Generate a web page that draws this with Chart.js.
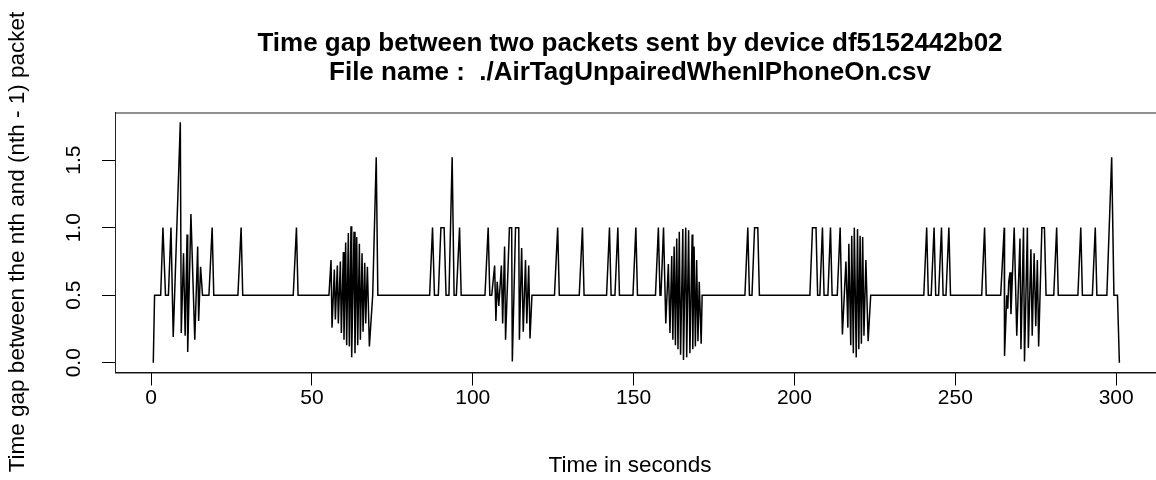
<!DOCTYPE html>
<html><head><meta charset="utf-8">
<script src="https://cdn.jsdelivr.net/npm/chart.js@4/dist/chart.umd.min.js"></script>
<style>html,body{margin:0;padding:0;background:#fff;overflow:hidden;width:1156px;height:480px}
#wrap{position:relative;width:1160px;height:480px}</style></head>
<body><div id="wrap"><canvas id="c" width="1160" height="480"></canvas></div>
<script>
const titleLines = ["Time gap between two packets sent by device df5152442b02", "File name :  ./AirTagUnpairedWhenIPhoneOn.csv"];
const xAxisTitle = "Time in seconds";
const yAxisTitle = "Time gap between the nth and (nth - 1) packet";
const xTicks = [0, 50, 100, 150, 200, 250, 300];
const xTickLabels = ["0", "50", "100", "150", "200", "250", "300"];
const yTicks = [0, 0.5, 1.0, 1.5];
const yTickLabels = ["0.0", "0.5", "1.0", "1.5"];

const timeSec = [
  0.7, 1.1, 3.0, 3.7, 4.5, 5.4, 6.2, 6.9, 9.1, 9.4, 10.1, 10.6, 11.2, 11.4, 12.4, 13.6, 14.5, 14.8, 15.4, 16.0,
  18.0, 19.0, 19.5, 27.0, 28.0, 28.5, 44.2, 45.2, 45.7, 55.3,
  55.95, 56.26, 56.98, 57.3, 57.91, 58.22, 58.85, 59.16, 59.78, 59.98, 60.5, 60.81, 61.33, 61.64, 62.16, 62.37,
  63.1, 63.4, 63.93, 64.24, 64.76, 65.07, 65.59, 65.9, 66.42, 66.73, 67.25, 67.87, 68.9, 70.0, 70.5,
  86.6, 87.5, 88.1, 89.3, 90.1, 91.1, 91.7, 92.6, 93.6, 94.2, 94.9, 95.9, 96.4,
  103.8, 104.8, 105.3, 105.9,
  106.8, 107.2, 107.6, 108.1, 108.9, 109.3, 109.9, 110.2, 111.4, 112.1, 112.3, 113.3, 114.3, 114.5, 115.2, 115.7,
  116.4, 116.8, 117.4, 117.8, 118.4,
  125.4, 126.4, 126.9, 133.1, 134.1, 134.6, 141.6, 142.5, 143.0, 144.2, 145.1, 145.6, 149.8, 150.7, 151.2,
  156.8, 157.7, 158.2, 158.5, 159.3,
  160.0, 160.8, 161.3, 161.85, 162.2, 162.6, 163.0, 163.4, 163.8, 164.2, 164.6, 165.3, 165.5, 166.2, 166.5, 167.1,
  167.5, 168.2, 168.4, 168.8, 169.2, 169.6, 170.0, 170.4, 171.0, 171.3,
  184.6, 185.5, 186.0, 186.8, 187.6, 188.6, 189.1,
  204.8, 205.6, 206.7, 207.2, 207.9, 208.7, 209.2, 210.4, 211.2, 211.7, 213.3, 214.2,
  214.9, 216.0, 216.6, 216.9, 217.5, 217.8, 218.3, 218.6, 219.2, 219.6, 220.0, 220.4, 220.8, 221.2, 221.6, 222.2,
  222.9, 223.7,
  240.2, 241.1, 241.6, 242.5, 243.4, 243.9, 244.8, 245.7, 246.2, 247.1, 248.0, 248.5,
  258.2, 259.1, 259.6, 264.1,
  265.2, 265.3, 266.0, 266.3, 266.6, 267.0, 267.3, 268.3, 269.1, 270.1, 270.4, 271.2, 271.5, 272.4, 272.7, 273.5,
  273.9, 274.5, 275.0, 275.5, 275.9, 276.9, 277.7, 278.2,
  280.6, 281.5, 282.0, 288.1, 289.0, 289.5, 292.6, 293.5, 294.0,
  297.1, 298.6, 299.3, 300.4, 301.0
];
const gapSec = [
  0.0, 0.5, 0.5, 1.0, 0.5, 0.5, 1.0, 0.19, 1.78, 0.22, 0.81, 0.2, 0.95, 0.08, 1.1, 0.17, 0.86, 0.31, 0.71, 0.5,
  0.5, 1.0, 0.5, 0.5, 1.0, 0.5, 0.5, 1.0, 0.5, 0.5,
  0.76, 0.26, 0.69, 0.32, 0.72, 0.29, 0.75, 0.22, 0.82, 0.17, 0.89, 0.13, 0.96, 0.12, 1.01, 0.04,
  0.97, 0.07, 0.93, 0.13, 0.88, 0.17, 0.81, 0.23, 0.74, 0.29, 0.71, 0.12, 0.5, 1.52, 0.5,
  0.5, 1.0, 0.5, 0.5, 1.0, 1.0, 0.5, 0.5, 1.52, 0.5, 0.5, 1.0, 0.5,
  0.5, 1.0, 0.5, 0.5,
  0.72, 0.31, 0.6, 0.42, 0.72, 0.29, 0.86, 0.17, 1.0, 1.0, 0.01, 1.0, 1.0, 0.17, 0.85, 0.23,
  0.76, 0.29, 0.72, 0.18, 0.5,
  0.5, 1.0, 0.5, 0.5, 1.0, 0.5, 0.5, 1.0, 0.5, 0.5, 1.0, 0.5, 0.5, 1.0, 0.5,
  0.5, 1.0, 0.5, 0.5, 1.0,
  0.29, 0.73, 0.22, 0.79, 0.17, 0.86, 0.13, 0.92, 0.1, 0.97, 0.06, 0.99, 0.02, 1.0, 0.04, 0.98,
  0.07, 0.95, 0.1, 0.86, 0.12, 0.76, 0.16, 0.6, 0.14, 0.5,
  0.5, 1.0, 0.5, 0.5, 1.0, 1.0, 0.5,
  0.5, 1.0, 1.0, 0.5, 0.5, 1.0, 0.5, 0.5, 1.0, 0.5, 0.5, 1.0,
  0.21, 0.75, 0.26, 0.88, 0.13, 0.94, 0.07, 1.0, 0.04, 0.99, 0.1, 0.94, 0.14, 0.93, 0.2, 0.76,
  0.16, 0.5,
  0.5, 1.0, 0.5, 0.5, 1.0, 0.5, 0.5, 1.0, 0.5, 0.5, 1.0, 0.5,
  0.5, 1.0, 0.5, 0.5,
  1.0, 0.05, 0.5, 0.4, 0.6, 0.67, 0.36, 1.0, 0.2, 0.92, 0.1, 1.0, 0.01, 1.0, 0.11, 0.84,
  0.2, 0.81, 0.27, 0.76, 0.12, 1.0, 1.0, 0.5,
  0.5, 1.0, 0.5, 0.5, 1.0, 0.5, 0.5, 1.0, 0.5,
  0.5, 1.52, 0.5, 0.5, 0.0
];

const FONT = '"Liberation Sans", Arial, sans-serif';

const rText = {
  id: 'rText',
  afterDraw(chart) {
    const ctx = chart.ctx, a = chart.chartArea;
    const xs = chart.scales.x, ys = chart.scales.y;
    ctx.save();
    ctx.strokeStyle = '#222';
    ctx.lineWidth = 1;
    ctx.strokeRect(a.left + 0.5, a.top + 0.5, a.right - a.left, a.bottom - a.top);
    ctx.fillStyle = '#000';
    ctx.textAlign = 'center';
    ctx.textBaseline = 'middle';
    ctx.font = 'bold 26px ' + FONT;
    ctx.fillText(titleLines[0], 630, 44);
    ctx.fillText(titleLines[1], 630, 73);
    ctx.font = '21px ' + FONT;
    xTicks.forEach((v, i) => ctx.fillText(xTickLabels[i], xs.getPixelForValue(v), 398));
    yTicks.forEach((v, i) => {
      ctx.save();
      ctx.translate(74, ys.getPixelForValue(v));
      ctx.rotate(-Math.PI / 2);
      ctx.fillText(yTickLabels[i], 0, 0);
      ctx.restore();
    });
    ctx.font = '22.5px ' + FONT;
    ctx.fillText(xAxisTitle, 630, 466);
    ctx.save();
    ctx.translate(18, 242);
    ctx.rotate(-Math.PI / 2);
    ctx.fillText(yAxisTitle, 0, 0);
    ctx.restore();
    ctx.restore();
  }
};

const points = timeSec.map((t, i) => ({ x: t, y: gapSec[i] }));

new Chart(document.getElementById('c'), {
  type: 'line',
  data: { datasets: [{ data: points, borderColor: '#000', borderWidth: 1.5, pointRadius: 0, tension: 0, fill: false }] },
  options: {
    responsive: false, animation: false, devicePixelRatio: 1,
    layout: { padding: { top: 112.5, right: 2, left: 0, bottom: 0 } },
    plugins: { legend: { display: false }, tooltip: { enabled: false }, title: { display: false } },
    scales: {
      x: {
        type: 'linear', min: -11.2, max: 313,
        afterBuildTicks: s => { s.ticks = xTicks.map(v => ({ value: v })); },
        afterFit: s => { s.height = 107.5; },
        ticks: { display: false },
        grid: { drawOnChartArea: false, drawTicks: true, tickLength: 13, color: '#000', lineWidth: 1 },
        border: { display: true, color: '#000', width: 1 }
      },
      y: {
        type: 'linear', min: -0.072, max: 1.852,
        afterBuildTicks: s => { s.ticks = yTicks.map(v => ({ value: v })); },
        afterFit: s => { s.width = 115; },
        ticks: { display: false },
        grid: { drawOnChartArea: false, drawTicks: true, tickLength: 13, color: '#000', lineWidth: 1 },
        border: { display: true, color: '#000', width: 1 }
      }
    }
  },
  plugins: [rText]
});
</script></body></html>
